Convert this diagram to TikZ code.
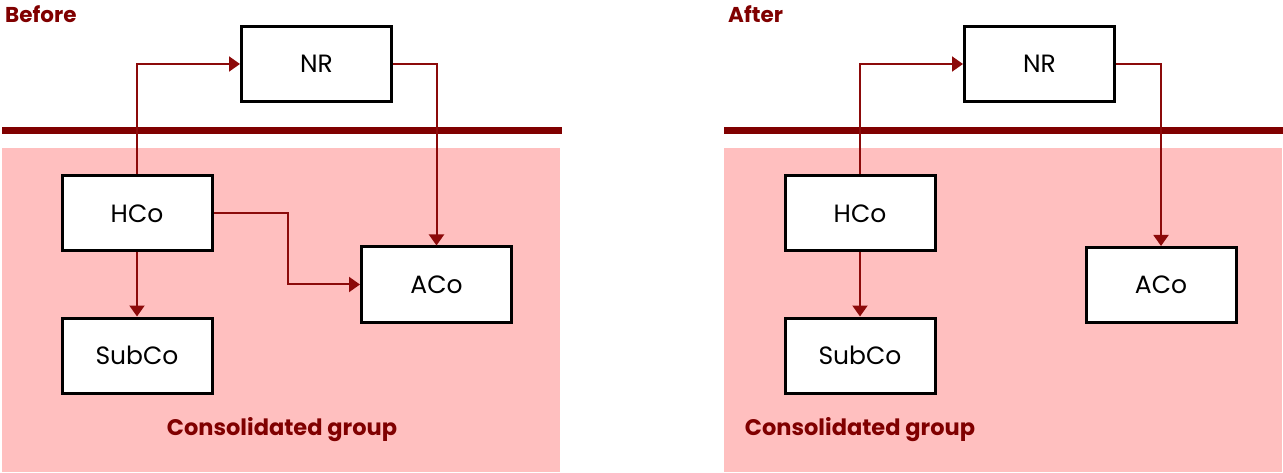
\documentclass[tikz,border=0pt]{standalone}
\usepackage{fontspec}
\setmainfont{Poppins}
\usetikzlibrary{arrows.meta}
\definecolor{dred}{RGB}{128,0,0}
\definecolor{conn}{RGB}{140,10,10}
\definecolor{pinkbg}{RGB}{255,191,191}
\tikzset{
  entity/.style={draw=black, line width=3pt, fill=white, minimum width=150pt, minimum height=75pt, inner sep=0pt, font=\fontsize{25}{30}\selectfont, text=black},
  link/.style={draw=conn, line width=2pt, -{Triangle[length=11pt,width=15pt]}},
  divider/.style={draw=dred, line width=7pt},
  grouplabel/.style={text=dred, font=\fontsize{22.5}{27}\selectfont\bfseries, anchor=base},
  panellabel/.style={text=dred, font=\fontsize{21.5}{26}\selectfont\bfseries, anchor=base west, inner sep=0pt}
}
\begin{document}
\begin{tikzpicture}[x=1pt,y=-1pt]
\useasboundingbox (0,0) rectangle (1283,473);
% ---------- Before ----------
\fill[pinkbg] (2,148) rectangle (560,472);
\draw[divider] (2,130.5) -- (562,130.5);
\node[panellabel] (before) at (5,23) {Before};
\node[entity] (nrA) at (316.5,64) {NR};
\node[entity] (hcoA) at (137,213.5) {HCo};
\node[entity] (subA) at (137,355.5) {SubCo};
\node[entity] (acoA) at (436.5,284.5) {ACo};
\node[grouplabel] (grpA) at (282,435) {Consolidated group};
\draw[link] (hcoA.north) |- (nrA.west);
\draw[link] (nrA.east) -| (acoA.north);
\draw[link] (hcoA.east) -- ++(74,0) |- (acoA.west);
\draw[link] (hcoA.south) -- (subA.north);
% ---------- After ----------
\fill[pinkbg] (724,148) rectangle (1282,472);
\draw[divider] (724,130.5) -- (1283,130.5);
\node[panellabel] (after) at (728,23) {After};
\node[entity] (nrB) at (1039.5,64) {NR};
\node[entity] (hcoB) at (860,213.5) {HCo};
\node[entity] (subB) at (860,355.5) {SubCo};
\node[entity] (acoB) at (1161,285) {ACo};
\node[grouplabel] (grpB) at (860,435) {Consolidated group};
\draw[link] (hcoB.north) |- (nrB.west);
\draw[link] (nrB.east) -| (acoB.north);
\draw[link] (hcoB.south) -- (subB.north);
\end{tikzpicture}
\end{document}
